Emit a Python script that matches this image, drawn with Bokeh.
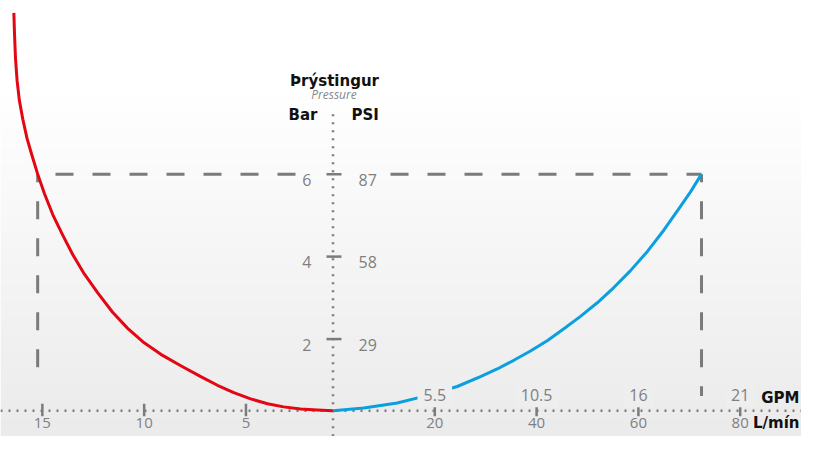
import numpy as np
from bokeh.plotting import figure
from bokeh.models import Range1d, Label
from bokeh.embed import file_html
from bokeh.resources import INLINE

# ---------------- data ----------------
bar_ticks = [2, 4, 6]                       # pressure, bar
psi_labels = ["29", "58", "87"]             # same pressures in PSI
lmin_ticks = [20, 40, 60, 80]               # flow, L/min
gpm_labels = ["5.5", "10.5", "16", "21"]    # same flows in GPM
left_ticks = [15, 10, 5]                    # left-hand scale

# red curve (left-hand scale value, bar)
red_left = [16.40, 16.37, 16.32, 16.24, 16.13, 15.96, 15.75, 15.52, 15.23,
            14.90, 14.49, 14.00, 13.51, 12.94, 12.28, 11.55, 10.81, 10.00,
            9.18, 8.20, 7.22, 6.40, 5.60, 4.77, 3.94, 3.15, 2.32, 1.50, 0.73]
red_bar = [9.91, 9.43, 8.81, 8.26, 7.79, 7.33, 6.86, 6.47, 6.00,
           5.53, 5.02, 4.52, 4.05, 3.58, 3.12, 2.65, 2.26, 1.91,
           1.63, 1.352, 1.09, 0.88, 0.70, 0.550, 0.433, 0.356, 0.304, 0.281, 0.26]

# blue curve (L/min, bar)
blue_lmin = [0.0, 2.79, 6.05, 9.33, 12.61, 16.86, 24.40, 28.98, 32.26, 35.52,
             38.80, 42.08, 45.36, 48.62, 51.92, 55.17, 58.45, 61.73, 64.99,
             68.27, 70.24, 72.4]
blue_bar = [0.26, 0.29, 0.33, 0.39, 0.45, 0.58, 0.85, 1.092, 1.275, 1.485,
            1.71, 1.96, 2.25, 2.55, 2.88, 3.25, 3.66, 4.12, 4.64,
            5.22, 5.57, 6.0]

op_bar = 6          # operating pressure
op_lmin = 72.4      # operating flow
op_left = 15.23     # operating value on left scale
base_bar = 0.26     # level of the horizontal axis

# ---------------- layout helpers (reference pixel -> data) ----------------
def X(px):
    return (px - 332.5) / 5.09

def Y(py):
    return (436.5 - py) / 42.75

def left_to_x(v):
    return 2.9 - 4.0 * v

W, H = 801, 436
TOP, BOT = 0, 452
GRAY = "#7b7b7b"
TXT = "#808080"
FONT = "Open Sans"
BOLD = "DejaVu Sans"

p = figure(width=W, height=H, output_backend="svg", toolbar_location=None,
           x_range=Range1d(X(0), X(W)), y_range=Range1d(Y(BOT), Y(TOP)),
           x_axis_location=None, y_axis_location=None, min_border=0,
           background_fill_color="white", border_fill_color="white")
p.grid.visible = False
p.outline_line_color = None

# background gradient
NR = BOT - TOP
py_rows = BOT - 0.5 - np.arange(NR)

def grey(py):
    return np.clip(np.where(py < 100, 255.0, 255.0 - 20.0 * (py - 100) / 352.0), 0, 255)

g = grey(py_rows).astype(np.uint8)
img = np.empty((NR, 2), dtype=np.uint32)
v = img.view(dtype=np.uint8).reshape((NR, 2, 4))
v[:, :, 0] = g[:, None]
v[:, :, 1] = g[:, None]
v[:, :, 2] = g[:, None]
v[:, :, 3] = 255
p.image_rgba(image=[img], x=X(0), y=Y(BOT), dw=X(W) - X(0), dh=Y(TOP) - Y(BOT))

def bg_at(py):
    val = int(round(float(grey(np.array(py)))))
    return "#%02x%02x%02x" % (val, val, val)

# dashed guides to the operating point
xl = left_to_x(op_left)
p.line([xl, xl], [op_bar, Y(397)], line_color=GRAY, line_width=3,
       line_dash="18 19", line_dash_offset=10)
p.line([op_lmin, op_lmin], [op_bar, Y(410)], line_color=GRAY, line_width=3,
       line_dash="18 19", line_dash_offset=10)
p.line([X(295), xl], [op_bar, op_bar], line_color=GRAY, line_width=3,
       line_dash="18 19")
p.line([X(390), op_lmin], [op_bar, op_bar], line_color=GRAY, line_width=3,
       line_dash="18 19")

# dotted axes
p.line([X(0), X(W)], [base_bar, base_bar], line_color=GRAY, line_width=2.5,
       line_dash="2 6")
p.line([0, 0], [Y(118), Y(BOT)], line_color=GRAY, line_width=2.5,
       line_dash="2 6")

# ticks
p.segment(x0=[X(326)] * 3, y0=bar_ticks, x1=[X(341)] * 3, y1=bar_ticks,
          line_color=GRAY, line_width=2.5)
xt = [left_to_x(t) for t in left_ticks] + lmin_ticks
p.segment(x0=xt, y0=[Y(418)] * len(xt), x1=xt, y1=[Y(431)] * len(xt),
          line_color=GRAY, line_width=2.5)

# curves
p.line([left_to_x(t) for t in red_left], red_bar, line_color="#e30613",
       line_width=3, line_join="round")
p.line(blue_lmin, blue_bar, line_color="#0aa0e0", line_width=3,
       line_join="round")

def lab(x, y, text, align="center", size="16px", color=TXT, style="normal",
        font=FONT, **kw):
    p.add_layout(Label(x=x, y=y, text=text, text_align=align,
                       text_baseline="alphabetic", text_font=font,
                       text_font_size=size, text_color=color,
                       text_font_style=style, **kw))

# pressure tick labels
for b, psi in zip(bar_ticks, psi_labels):
    lab(X(311), b - 6 / 42.75, str(b), align="right")
    lab(X(358), b - 6 / 42.75, psi, align="left")

# flow labels
for t, gl in zip(lmin_ticks, gpm_labels):
    lab(t, Y(409.3), gl, background_fill_color=bg_at(403),
        background_fill_alpha=1.0, padding=6)
    lab(t, Y(437.5), str(t), size="15px")
for t in left_ticks:
    lab(left_to_x(t), Y(437.5), str(t), size="15px")

# headers
lab(X(334), Y(83), "Þrýstingur", size="15px", color="#111111", style="bold", font=BOLD)
lab(X(333.5), Y(97), "Pressure", size="12px", color="#888888", style="italic")
lab(X(317), Y(118.3), "Bar", align="right", size="15px", color="#111111", style="bold", font=BOLD)
lab(X(351), Y(118.3), "PSI", align="left", size="15px", color="#111111", style="bold", font=BOLD)
lab(X(799), Y(411.7), "GPM", align="right", size="15px", color="#111111", style="bold", font=BOLD)
lab(X(799), Y(437.5), "L/mín", align="right", size="15px", color="#111111", style="bold", font=BOLD)

open("out.html", "w").write(file_html(p, INLINE))
